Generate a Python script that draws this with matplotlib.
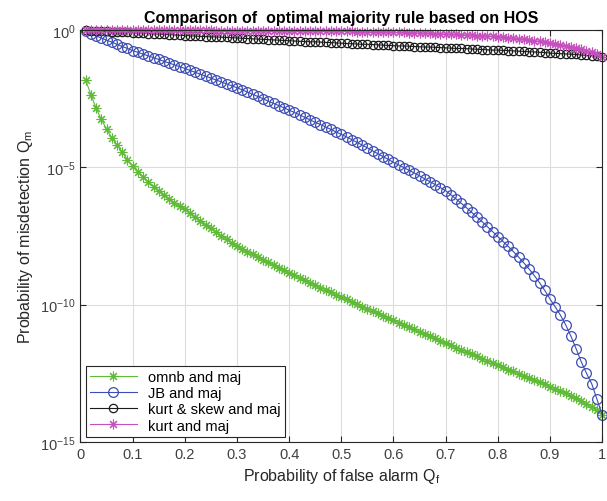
import numpy as np
import matplotlib
matplotlib.use('Agg')
import matplotlib.pyplot as plt
from matplotlib.ticker import LogFormatterSciNotation, NullLocator

plt.rcParams['font.family'] = ['Liberation Sans', 'DejaVu Sans']
plt.rcParams['mathtext.default'] = 'regular'

# Probability of false alarm Q_f (0.01 : 0.01 : 1)
qf = np.arange(1, 101) / 100.0

# log10 of the probability of misdetection
omnb_log = [
    -1.83, -2.35, -2.85, -3.25, -3.62, -3.92, -4.18, -4.45, -4.72, -4.96,
    -5.16, -5.35, -5.53, -5.70, -5.86, -6.01, -6.15, -6.29, -6.41, -6.53,
    -6.67, -6.81, -6.95, -7.09, -7.22, -7.35, -7.49, -7.62, -7.75, -7.87,
    -7.97, -8.07, -8.17, -8.27, -8.37, -8.46, -8.56, -8.65, -8.75, -8.84,
    -8.93, -9.02, -9.11, -9.20, -9.29, -9.38, -9.46, -9.55, -9.64, -9.73,
    -9.81, -9.90, -9.98, -10.07, -10.15, -10.23, -10.32, -10.40, -10.49, -10.57,
    -10.65, -10.74, -10.82, -10.90, -10.99, -11.07, -11.15, -11.23, -11.32, -11.40,
    -11.48, -11.56, -11.64, -11.72, -11.80, -11.88, -11.96, -12.04, -12.12, -12.20,
    -12.28, -12.36, -12.43, -12.51, -12.59, -12.67, -12.75, -12.82, -12.90, -12.98,
    -13.06, -13.14, -13.23, -13.32, -13.41, -13.51, -13.61, -13.72, -13.85, -14.00,
]
jb_log = [
    -0.05, -0.13, -0.21, -0.29, -0.37, -0.44, -0.52, -0.60, -0.67, -0.75,
    -0.81, -0.88, -0.94, -1.01, -1.07, -1.14, -1.20, -1.27, -1.33, -1.40,
    -1.47, -1.54, -1.61, -1.68, -1.75, -1.82, -1.89, -1.96, -2.03, -2.10,
    -2.18, -2.26, -2.34, -2.42, -2.50, -2.59, -2.67, -2.75, -2.83, -2.92,
    -3.00, -3.09, -3.18, -3.27, -3.36, -3.44, -3.53, -3.62, -3.71, -3.80,
    -3.89, -3.99, -4.09, -4.19, -4.29, -4.40, -4.50, -4.61, -4.71, -4.82,
    -4.91, -5.01, -5.11, -5.21, -5.31, -5.42, -5.52, -5.63, -5.74, -5.85,
    -6.00, -6.15, -6.31, -6.47, -6.64, -6.81, -6.98, -7.16, -7.34, -7.52,
    -7.70, -7.88, -8.07, -8.27, -8.48, -8.70, -8.94, -9.20, -9.48, -9.79,
    -10.08, -10.38, -10.73, -11.14, -11.60, -12.08, -12.50, -12.88, -13.44, -14.00,
]
kurt_skew_log = [
    -0.01, -0.02, -0.03, -0.04, -0.05, -0.06, -0.07, -0.08, -0.09, -0.10,
    -0.11, -0.12, -0.13, -0.14, -0.15, -0.16, -0.17, -0.18, -0.19, -0.20,
    -0.21, -0.22, -0.23, -0.24, -0.25, -0.25, -0.26, -0.27, -0.28, -0.29,
    -0.30, -0.31, -0.32, -0.33, -0.34, -0.35, -0.36, -0.37, -0.38, -0.39,
    -0.40, -0.41, -0.42, -0.43, -0.43, -0.44, -0.45, -0.46, -0.47, -0.48,
    -0.49, -0.50, -0.51, -0.52, -0.52, -0.53, -0.54, -0.55, -0.56, -0.57,
    -0.58, -0.58, -0.59, -0.60, -0.61, -0.62, -0.62, -0.63, -0.64, -0.65,
    -0.66, -0.67, -0.67, -0.68, -0.69, -0.70, -0.71, -0.72, -0.73, -0.73,
    -0.74, -0.75, -0.76, -0.77, -0.78, -0.79, -0.80, -0.81, -0.82, -0.84,
    -0.85, -0.86, -0.87, -0.88, -0.89, -0.91, -0.92, -0.94, -0.96, -0.98,
]
kurt_log = [
    0.00, 0.00, 0.00, 0.00, 0.00, 0.00, 0.00, 0.00, 0.00, 0.00,
    0.00, 0.00, 0.00, 0.00, -0.01, -0.01, -0.01, -0.01, -0.01, -0.01,
    -0.01, -0.01, -0.01, -0.01, -0.01, -0.02, -0.02, -0.02, -0.02, -0.02,
    -0.02, -0.02, -0.02, -0.02, -0.02, -0.02, -0.03, -0.03, -0.03, -0.03,
    -0.03, -0.03, -0.03, -0.04, -0.04, -0.04, -0.04, -0.04, -0.05, -0.05,
    -0.05, -0.05, -0.06, -0.06, -0.06, -0.07, -0.07, -0.07, -0.08, -0.08,
    -0.09, -0.09, -0.10, -0.10, -0.11, -0.12, -0.12, -0.13, -0.14, -0.15,
    -0.16, -0.16, -0.17, -0.18, -0.19, -0.20, -0.21, -0.22, -0.23, -0.24,
    -0.26, -0.28, -0.30, -0.32, -0.34, -0.36, -0.39, -0.41, -0.44, -0.47,
    -0.50, -0.53, -0.57, -0.61, -0.65, -0.70, -0.75, -0.81, -0.88, -0.97,
]

labels = ['omnb and maj', 'JB and maj', 'kurt & skew and maj', 'kurt and maj']

fig = plt.figure(figsize=(6.07, 5.02), dpi=100)
ax = fig.add_axes([0.1326, 0.1175, 0.8594, 0.8207])

star = (8, 2, 0)
ax.semilogy(qf, 10.0 ** np.array(omnb_log), '-', color='#5fba38', marker=star,
            ms=7, mew=0.8, lw=0.8, label=labels[0], clip_on=False)
ax.semilogy(qf, 10.0 ** np.array(jb_log), '-', color='#3c4db3', marker='o',
            ms=7, mew=0.9, mfc='none', lw=0.8, label=labels[1], clip_on=False)
ax.semilogy(qf, 10.0 ** np.array(kurt_skew_log), '-', color='#1a1a1a', marker='o',
            ms=6, mew=0.9, mfc='none', lw=0.8, label=labels[2], clip_on=False)
ax.semilogy(qf, 10.0 ** np.array(kurt_log), '-', color='#c64fbe', marker=star,
            ms=7, mew=0.8, lw=0.8, label=labels[3], clip_on=False)

ax.set_xlim(0, 1)
ax.set_ylim(1e-15, 1)
ax.set_xticks(np.arange(0, 1.01, 0.1))
ax.set_xticklabels(['0', '0.1', '0.2', '0.3', '0.4', '0.5', '0.6', '0.7', '0.8', '0.9', '1'])
ax.set_yticks([1e-15, 1e-10, 1e-5, 1])
ax.yaxis.set_major_formatter(LogFormatterSciNotation())
ax.yaxis.set_minor_locator(NullLocator())

ax.tick_params(direction='in', top=True, right=True, length=4, width=0.8,
               labelsize=10.5, colors='#262626', labelcolor='#404040')
for s in ax.spines.values():
    s.set_color('#262626')
    s.set_linewidth(0.8)
ax.grid(True, color='#dcdcdc', linewidth=0.8)
ax.set_axisbelow(True)

ax.set_title('Comparison of  optimal majority rule based on HOS',
             fontsize=11.5, fontweight='bold', pad=6)
ax.set_xlabel('Probability of false alarm Q$_f$', fontsize=11.5, color='#262626')
ax.set_ylabel('Probability of misdetection Q$_m$', fontsize=11.5, color='#262626')

leg = ax.legend(loc='lower left', fontsize=10.5, handlelength=3.2,
                borderaxespad=0.35, fancybox=False, framealpha=1,
                edgecolor='#262626', labelspacing=0.15, borderpad=0.3)
leg.get_frame().set_linewidth(0.8)

fig.savefig('out.png', dpi=100)
